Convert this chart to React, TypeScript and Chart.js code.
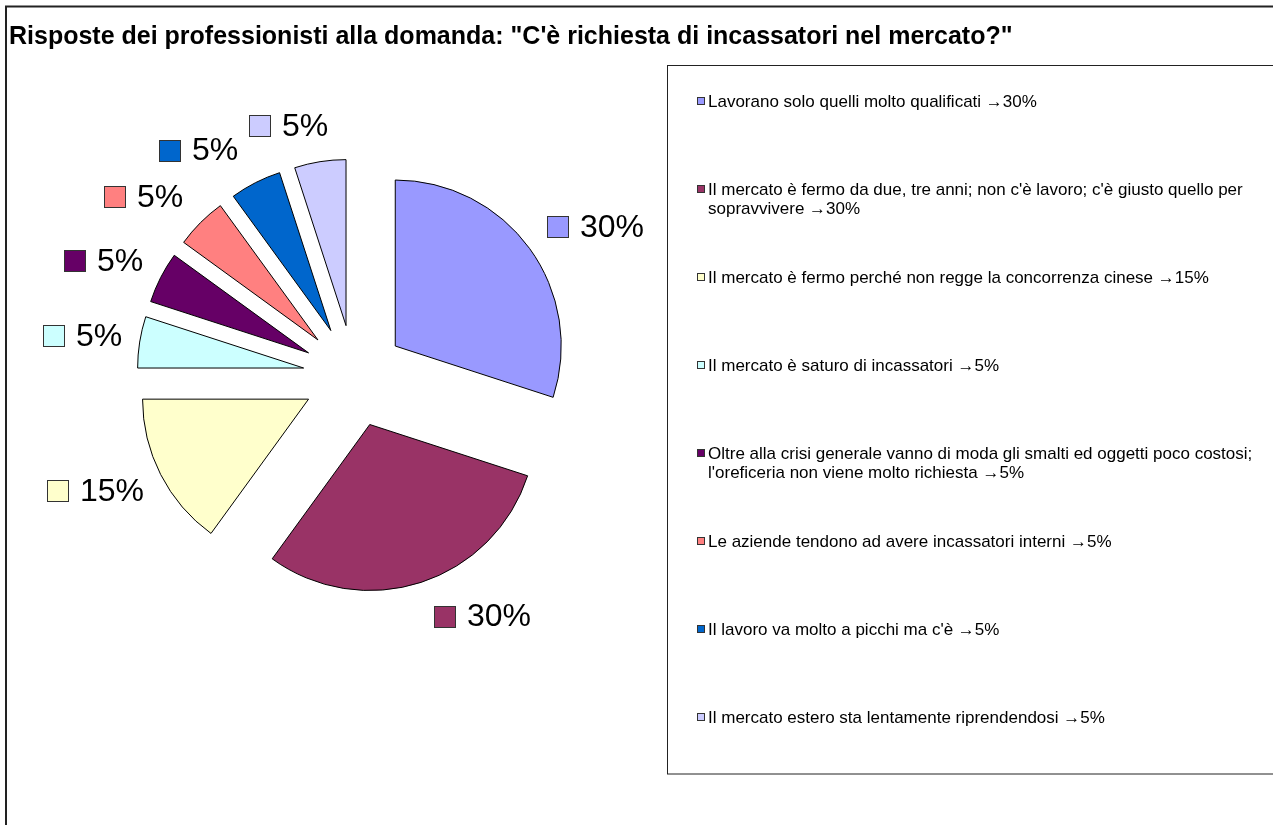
import React, { useEffect, useRef } from "react";
import { Chart, registerables } from "chart.js";

Chart.register(...registerables);

// ---- data ----
const TITLE = 'Risposte dei professionisti alla domanda: "C\'è richiesta di incassatori nel mercato?"';

const CATEGORIES = [
  "Lavorano solo quelli molto qualificati",
  "Il mercato è fermo da due, tre anni; non c'è lavoro; c'è giusto quello per sopravvivere",
  "Il mercato è fermo perché non regge la concorrenza cinese",
  "Il mercato è saturo di incassatori",
  "Oltre alla crisi generale vanno di moda gli smalti ed oggetti poco costosi; l'oreficeria non viene molto richiesta",
  "Le aziende tendono ad avere incassatori interni",
  "Il lavoro va molto a picchi ma c'è",
  "Il mercato estero sta lentamente riprendendosi",
];

const VALUES = [30, 30, 15, 5, 5, 5, 5, 5];

const COLORS = [
  "#9999FF",
  "#993366",
  "#FFFFCC",
  "#CCFFFF",
  "#660066",
  "#FF8080",
  "#0066CC",
  "#CCCCFF",
];

// ---- style ----
const FONT = '"Liberation Sans", Arial, Helvetica, sans-serif';
const PIE_RADIUS = 166;
const EXPLODE = 51;

const framePlugin = {
  id: "frame",
  beforeDraw(chart: any) {
    const ctx = chart.ctx as CanvasRenderingContext2D;
    ctx.save();
    ctx.fillStyle = "#ffffff";
    ctx.fillRect(0, 0, chart.width, chart.height);
    ctx.strokeStyle = "#222222";
    ctx.lineWidth = 2;
    ctx.strokeRect(6, 6.5, chart.width + 20, chart.height + 20);
    ctx.fillStyle = "#000000";
    ctx.font = `bold 25px ${FONT}`;
    ctx.textBaseline = "alphabetic";
    ctx.textAlign = "left";
    ctx.fillText(TITLE, 9, 44);
    ctx.restore();
  },
};

const explodePlugin = {
  id: "explode",
  beforeDatasetsDraw(chart: any) {
    const meta = chart.getDatasetMeta(0);
    const a = chart.chartArea;
    const cx = (a.left + a.right) / 2;
    const cy = (a.top + a.bottom) / 2;
    meta.data.forEach((arc: any) => {
      const mid = (arc.startAngle + arc.endAngle) / 2;
      arc.x = cx + EXPLODE * Math.cos(mid);
      arc.y = cy + EXPLODE * Math.sin(mid);
    });
  },
};

const sliceLabelPlugin = {
  id: "sliceLabels",
  afterDatasetsDraw(chart: any) {
    const ctx = chart.ctx as CanvasRenderingContext2D;
    const meta = chart.getDatasetMeta(0);
    const a = chart.chartArea;
    const cx = (a.left + a.right) / 2;
    const cy = (a.top + a.bottom) / 2;
    const SQ = 22;
    const GAP = 11;
    ctx.save();
    ctx.font = `32px ${FONT}`;
    ctx.textBaseline = "middle";
    ctx.textAlign = "left";
    meta.data.forEach((arc: any, i: number) => {
      const mid = (arc.startAngle + arc.endAngle) / 2;
      const dx = Math.cos(mid);
      const dy = Math.sin(mid);
      const R = arc.outerRadius + EXPLODE;
      const mx = cx + R * dx;
      const my = cy + R * dy;
      const text = `${VALUES[i]}%`;
      const tw = ctx.measureText(text).width;
      const w = SQ + GAP + tw;
      const lim = w / 2 + 17;
      const lx = mx + Math.max(-lim, Math.min(lim, dx * 200));
      const ly = my + dy * 36;
      const x0 = Math.round(lx - w / 2);
      const y0 = Math.round(ly - SQ / 2);
      ctx.fillStyle = COLORS[i];
      ctx.fillRect(x0, y0, SQ, SQ);
      ctx.strokeStyle = "#333333";
      ctx.lineWidth = 1;
      ctx.strokeRect(x0 + 0.5, y0 + 0.5, SQ - 1, SQ - 1);
      ctx.fillStyle = "#000000";
      ctx.fillText(text, x0 + SQ + GAP, ly + 1);
    });
    ctx.restore();
  },
};

function wrapText(ctx: CanvasRenderingContext2D, text: string, maxW: number): string[] {
  const words = text.split(" ");
  const lines: string[] = [];
  let cur = "";
  for (const w of words) {
    const test = cur ? cur + " " + w : w;
    if (cur && ctx.measureText(test).width > maxW) {
      lines.push(cur);
      cur = w;
    } else {
      cur = test;
    }
  }
  if (cur) lines.push(cur);
  return lines;
}

const legendPlugin = {
  id: "customLegend",
  afterDraw(chart: any) {
    const ctx = chart.ctx as CanvasRenderingContext2D;
    const labels: string[] = chart.data.labels;
    const bg: string[] = chart.data.datasets[0].backgroundColor;
    const vals: number[] = chart.data.datasets[0].data;
    ctx.save();
    ctx.strokeStyle = "#222222";
    ctx.lineWidth = 1;
    ctx.strokeRect(667.5, 65.5, 700, 708.5);
    ctx.font = `17px ${FONT}`;
    ctx.textBaseline = "middle";
    ctx.textAlign = "left";
    labels.forEach((lab, i) => {
      const y = 101 + i * 88;
      ctx.fillStyle = bg[i];
      ctx.fillRect(697, Math.round(y - 4), 8, 8);
      ctx.strokeStyle = "#333333";
      ctx.strokeRect(697.5, Math.round(y - 4) + 0.5, 7, 7);
      ctx.fillStyle = "#000000";
      const lines = wrapText(ctx, `${lab} \u2192${vals[i]}%`, 580);
      lines.forEach((ln, j) => ctx.fillText(ln, 708, y + 1 + j * 19));
    });
    ctx.restore();
  },
};

export default function App() {
  const ref = useRef<HTMLCanvasElement>(null);
  useEffect(() => {
    const canvas = ref.current;
    if (!canvas) return;
    const chart = new Chart(canvas, {
      type: "pie",
      data: {
        labels: CATEGORIES,
        datasets: [
          {
            data: VALUES,
            backgroundColor: COLORS,
            borderColor: "#000000",
            borderWidth: 1,
            borderJoinStyle: "miter",
          } as any,
        ],
      },
      options: {
        responsive: false,
        animation: false,
        devicePixelRatio: 1,
        radius: PIE_RADIUS,
        events: [],
        layout: { padding: { left: 154, right: 719, top: 176, bottom: 249 } },
        plugins: {
          legend: { display: false },
          title: { display: false },
          tooltip: { enabled: false },
        },
      } as any,
      plugins: [framePlugin, explodePlugin, sliceLabelPlugin, legendPlugin],
    });
    return () => chart.destroy();
  }, []);
  return (
    <div style={{ position: "fixed", left: 0, top: 0, width: 1273, height: 825, background: "#fff" }}>
      <canvas ref={ref} width={1273} height={825} style={{ display: "block", width: 1273, height: 825 }} />
    </div>
  );
}
